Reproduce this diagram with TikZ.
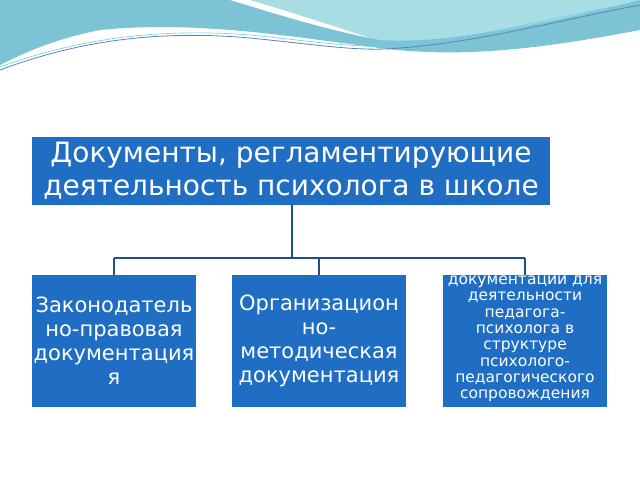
\documentclass[tikz,border=0pt]{standalone}
\usepackage{fontspec}
\setmainfont{DejaVu Sans}
\begin{document}
\begin{tikzpicture}[x=1pt,y=-1pt,
  box/.style={fill=boxblue,text=white,align=center,inner sep=0pt},
  conn/.style={draw=lineblue,line width=1.2pt}]
\definecolor{boxblue}{HTML}{1F6EC4}
\definecolor{lineblue}{HTML}{1F4E8C}
\definecolor{wave}{HTML}{7CC3D6}
\definecolor{wave2}{HTML}{A8DEE3}
\useasboundingbox (0,0) rectangle (640,480);
% decorative wave
\fill[wave] (0,0) -- (640,0) -- (640,30) .. controls (560,45) and (470,60) .. (380,48) .. controls (300,38) and (200,20) .. (100,30) .. controls (50,40) and (20,55) .. (0,65) -- cycle;
\fill[wave2] (240,0) .. controls (290,15) and (330,30) .. (380,40) .. controls (450,45) and (560,20) .. (640,0) -- cycle;
\fill[white] (230,0) .. controls (270,12) and (320,28) .. (370,38) .. controls (330,25) and (290,12) .. (250,0) -- cycle;
\draw[lineblue!70,line width=0.8pt] (0,70) .. controls (80,40) and (160,30) .. (250,38) .. controls (320,45) and (360,52) .. (400,48) .. controls (480,42) and (560,20) .. (640,5);
\draw[cyan!60,line width=0.6pt] (0,67) .. controls (80,38) and (160,28) .. (250,35) .. controls (320,42) and (360,49) .. (400,45) .. controls (480,38) and (560,15) .. (640,2);
% boxes
\node[box,minimum width=518pt,minimum height=68pt,font=\fontsize{28}{33}\selectfont] (main) at (291,171) {Документы, регламентирующие\\деятельность психолога в школе};
\node[box,minimum width=164pt,minimum height=132pt,font=\fontsize{21}{24}\selectfont] (b1) at (114,341) {Законодатель\\но-правовая\\документация\\я};
\node[box,minimum width=174pt,minimum height=132pt,font=\fontsize{21}{24}\selectfont] (b2) at (319,341) {Организацион\\но-\\методическая\\документация};
\node[box,minimum width=164pt,minimum height=132pt] (b3) at (525,341) {};
\begin{scope}
\clip ([yshift=20pt]b3.north west) rectangle (b3.south east);
\node[text=white,align=center,font=\fontsize{15.5}{16.3}\selectfont,anchor=north,inner sep=0pt] (t3) at ([yshift=-1pt]b3.north) {документации для\\деятельности\\педагога-\\психолога в\\структуре\\психолого-\\педагогического\\сопровождения};
\end{scope}
% connectors
\coordinate (hub) at (292,258);
\draw[conn] (main.south -| hub) -- (hub);
\draw[conn] (b1.north |- hub) -- (b3.north |- hub);
\draw[conn] (b1.north |- hub) -- (b1.north);
\draw[conn] (b2.north |- hub) -- (b2.north);
\draw[conn] (b3.north |- hub) -- (b3.north);
\end{tikzpicture}
\end{document}
